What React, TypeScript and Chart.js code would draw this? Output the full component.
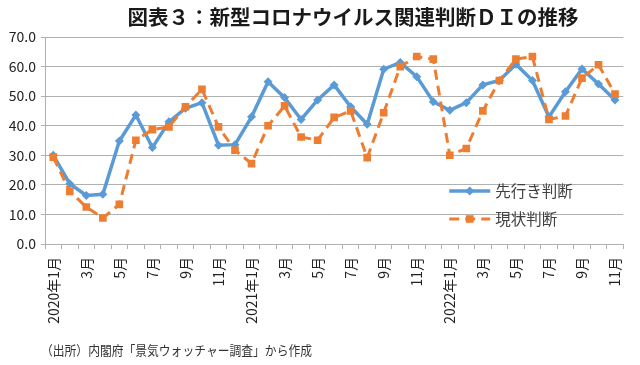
import React, { useEffect, useRef } from 'react';
import { Chart, registerables } from 'chart.js';

Chart.register(...registerables);

const categories = [
  '2020年1月', '2月', '3月', '4月', '5月', '6月', '7月', '8月', '9月', '10月', '11月', '12月',
  '2021年1月', '2月', '3月', '4月', '5月', '6月', '7月', '8月', '9月', '10月', '11月', '12月',
  '2022年1月', '2月', '3月', '4月', '5月', '6月', '7月', '8月', '9月', '10月', '11月',
];

const outlookDI = [
  30.0, 20.4, 16.4, 16.8, 34.8, 43.6, 32.6, 41.3, 45.9, 47.8, 33.4, 33.6,
  43.0, 54.9, 49.5, 42.1, 48.7, 53.8, 46.4, 40.5, 59.1, 61.4, 56.6, 48.1,
  45.2, 47.8, 53.8, 55.3, 60.8, 55.3, 43.0, 51.5, 59.2, 54.1, 48.7,
];

const currentDI = [
  29.4, 17.8, 12.5, 8.8, 13.4, 35.1, 38.7, 39.6, 46.4, 52.3, 39.6, 31.7,
  27.2, 40.0, 46.7, 36.2, 35.1, 42.8, 45.0, 29.2, 44.4, 60.0, 63.4, 62.5,
  30.0, 32.3, 45.0, 55.3, 62.5, 63.4, 42.1, 43.3, 56.1, 60.6, 50.7,
];

const seriesNames = ['先行き判断', '現状判断'];
const yTicks = [0, 10, 20, 30, 40, 50, 60, 70];

const titleText = '図表３：新型コロナウイルス関連判断ＤＩの推移';
const footerText = '（出所）内閣府「景気ウォッチャー調査」から作成';

const BLUE = '#5B9BD5';
const ORANGE = '#ED7D31';
const GRID = '#b0b0b0';
const FONT = "'Noto Sans CJK JP', 'Noto Sans', sans-serif";

const decorPlugin = {
  id: 'decor',
  afterDraw(chart: any) {
    const ctx = chart.ctx as CanvasRenderingContext2D;
    const ca = chart.chartArea;
    ctx.save();
    // title
    ctx.fillStyle = '#1a1a1a';
    ctx.font = `bold 20.5px ${FONT}`;
    ctx.textAlign = 'center';
    ctx.textBaseline = 'middle';
    ctx.fillText(titleText, 353, 17);

    // footer (condensed to match the narrow source font)
    ctx.fillStyle = '#333333';
    ctx.font = `13px ${FONT}`;
    ctx.textAlign = 'left';
    const fw = ctx.measureText(footerText).width;
    const s = 271 / fw;
    ctx.save();
    ctx.translate(41, 350);
    ctx.scale(s, 1);
    ctx.fillText(footerText, 0, 0);
    ctx.restore();

    // legend (inside plot area, lower right)
    const lx0 = ca.left + (ca.right - ca.left) * 0.699;
    const lx1 = lx0 + 41;
    const y1 = 191;
    const y2 = 219;
    ctx.strokeStyle = BLUE;
    ctx.lineWidth = 3.5;
    ctx.setLineDash([]);
    ctx.beginPath();
    ctx.moveTo(lx0, y1);
    ctx.lineTo(lx1, y1);
    ctx.stroke();
    const cx = (lx0 + lx1) / 2;
    ctx.fillStyle = BLUE;
    ctx.beginPath();
    ctx.moveTo(cx - 4.5, y1);
    ctx.lineTo(cx, y1 - 4.5);
    ctx.lineTo(cx + 4.5, y1);
    ctx.lineTo(cx, y1 + 4.5);
    ctx.closePath();
    ctx.fill();
    ctx.strokeStyle = ORANGE;
    ctx.lineWidth = 3;
    ctx.setLineDash([10, 6]);
    ctx.beginPath();
    ctx.moveTo(lx0, y2);
    ctx.lineTo(lx1, y2);
    ctx.stroke();
    ctx.setLineDash([]);
    ctx.fillStyle = ORANGE;
    ctx.fillRect(cx - 3.8, y2 - 3.8, 7.6, 7.6);

    ctx.fillStyle = '#404040';
    ctx.font = `15.5px ${FONT}`;
    ctx.textAlign = 'left';
    ctx.textBaseline = 'middle';
    ctx.fillText(seriesNames[0], lx1 + 5, y1);
    ctx.fillText(seriesNames[1], lx1 + 5, y2);
    ctx.restore();
  },
};

export default function App() {
  const ref = useRef<HTMLCanvasElement>(null);

  useEffect(() => {
    document.body.style.margin = '0';
    const canvas = ref.current;
    if (!canvas) return;
    const chart = new Chart(canvas, {
      type: 'line',
      data: {
        labels: categories,
        datasets: [
          {
            label: seriesNames[0],
            data: outlookDI,
            borderColor: BLUE,
            backgroundColor: BLUE,
            borderWidth: 3.5,
            pointStyle: 'rectRot',
            pointRadius: 4.5,
            pointBorderWidth: 0,
            pointBackgroundColor: BLUE,
            tension: 0,
            order: 1,
          },
          {
            label: seriesNames[1],
            data: currentDI,
            borderColor: ORANGE,
            backgroundColor: ORANGE,
            borderWidth: 3,
            borderDash: [10, 6],
            pointStyle: 'rect',
            pointRadius: 5.4,
            pointBorderWidth: 0,
            pointBackgroundColor: ORANGE,
            tension: 0,
            order: 0,
          },
        ],
      },
      options: {
        responsive: false,
        animation: false,
        events: [],
        layout: { padding: { top: 37, left: 0, right: 12, bottom: 0 } },
        plugins: {
          legend: { display: false },
          title: { display: false },
          tooltip: { enabled: false },
        },
        scales: {
          x: {
            type: 'category',
            offset: true,
            grid: {
              offset: true,
              drawOnChartArea: false,
              drawTicks: true,
              tickLength: 5,
              color: GRID,
            },
            border: { display: true, color: GRID, width: 1 },
            ticks: {
              autoSkip: false,
              maxRotation: 90,
              minRotation: 90,
              padding: 8,
              color: '#222222',
              font: { family: FONT, size: 14 },
              callback: (_v: any, i: number) => (i % 2 === 0 ? categories[i] : ''),
            },
            afterFit: (scale: any) => {
              scale.height = 121;
            },
          },
          y: {
            min: yTicks[0],
            max: yTicks[yTicks.length - 1],
            afterBuildTicks: (scale: any) => {
              scale.ticks = yTicks.map((v) => ({ value: v }));
            },
            grid: {
              color: GRID,
              drawTicks: true,
              tickLength: 4,
            },
            border: { display: true, color: GRID, width: 1 },
            ticks: {
              padding: 5,
              color: '#222222',
              font: { family: FONT, size: 14 },
              callback: (v: any) => Number(v).toFixed(1),
            },
            afterFit: (scale: any) => {
              scale.width = 45;
            },
          },
        },
      },
      plugins: [decorPlugin],
    });
    return () => chart.destroy();
  }, []);

  return (
    <div style={{ position: 'relative', width: 640, height: 365 }}>
      <canvas ref={ref} width={640} height={365} />
    </div>
  );
}
